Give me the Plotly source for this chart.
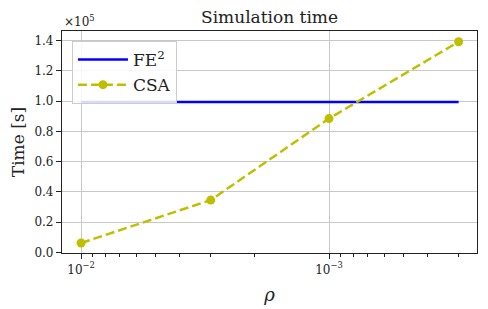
import plotly.graph_objects as go

rho = [1e-2, 3e-3, 1e-3, 3e-4]
fe2_time = [0.995e5, 0.995e5, 0.995e5, 0.995e5]
csa_time = [0.062e5, 0.346e5, 0.885e5, 1.393e5]

y_tickvals = [0, 0.2e5, 0.4e5, 0.6e5, 0.8e5, 1.0e5, 1.2e5, 1.4e5]
y_ticktext = ["0.0", "0.2", "0.4", "0.6", "0.8", "1.0", "1.2", "1.4"]
x_tickvals = [1e-2, 1e-3]
x_ticktext = ["10<sup>−2</sup>", "10<sup>−3</sup>"]
x_minor = [9e-3, 8e-3, 7e-3, 6e-3, 5e-3, 4e-3, 3e-3, 2e-3,
           9e-4, 8e-4, 7e-4, 6e-4, 5e-4, 4e-4, 3e-4]

FONT = "DejaVu Serif"
TXT = "#222222"

fig = go.Figure()
fig.add_trace(go.Scatter(
    x=rho, y=fe2_time, mode="lines", name="FE<sup>2</sup>",
    line=dict(color="#0000ff", width=2.5),
))
fig.add_trace(go.Scatter(
    x=rho, y=csa_time, mode="lines+markers", name="CSA",
    line=dict(color="#bfbf00", width=2.5, dash="9px,4px"),
    marker=dict(color="#bfbf00", size=9),
))

# the page adds an 8px body margin, so margins are shifted by -8 on left/top
fig.update_layout(
    width=488, height=309,
    margin=dict(l=54, r=19, t=23, b=64),
    paper_bgcolor="white", plot_bgcolor="white",
    font=dict(family=FONT, size=13, color=TXT),
    title=dict(text="Simulation time", xref="paper", x=0.5, xanchor="center",
               y=0.972, yanchor="middle", font=dict(size=17, family=FONT, color=TXT)),
    legend=dict(x=0.024, y=0.955, xanchor="left", yanchor="top",
                bgcolor="rgba(255,255,255,0.85)", bordercolor="#cccccc", borderwidth=1,
                font=dict(size=17, family=FONT, color=TXT),
                itemwidth=50, tracegroupgap=0),
    showlegend=True,
)

fig.update_xaxes(
    type="log", range=[-1.923, -3.597], automargin=False,
    tickvals=x_tickvals, ticktext=x_ticktext,
    ticks="outside", ticklen=5, tickwidth=1, tickcolor=TXT,
    showgrid=True, gridcolor="#c8c8c8", gridwidth=1,
    showline=True, linecolor=TXT, linewidth=1.2, mirror=True,
    minor=dict(tickvals=x_minor, ticks="outside", ticklen=3, tickcolor=TXT, showgrid=False),
    title=dict(text="<i>ρ</i>", font=dict(size=18, family=FONT, color=TXT), standoff=12),
    tickfont=dict(size=12, family=FONT, color=TXT),
    zeroline=False,
)
fig.update_yaxes(
    range=[-0.004e5, 1.464e5], automargin=False,
    tickvals=y_tickvals, ticktext=y_ticktext,
    ticks="outside", ticklen=5, tickwidth=1, tickcolor=TXT,
    showgrid=True, gridcolor="#c8c8c8", gridwidth=1,
    showline=True, linecolor=TXT, linewidth=1.2, mirror=True,
    title=dict(text="Time [s]", font=dict(size=17, family=FONT, color=TXT), standoff=6),
    tickfont=dict(size=12, family=FONT, color=TXT),
    zeroline=False,
)

fig.add_annotation(
    text="×10<sup>5</sup>", xref="paper", yref="paper", x=0.0, y=1.0,
    xanchor="left", yanchor="bottom", showarrow=False, yshift=0,
    font=dict(size=12, family=FONT, color=TXT),
)

fig.write_html("out.html")
